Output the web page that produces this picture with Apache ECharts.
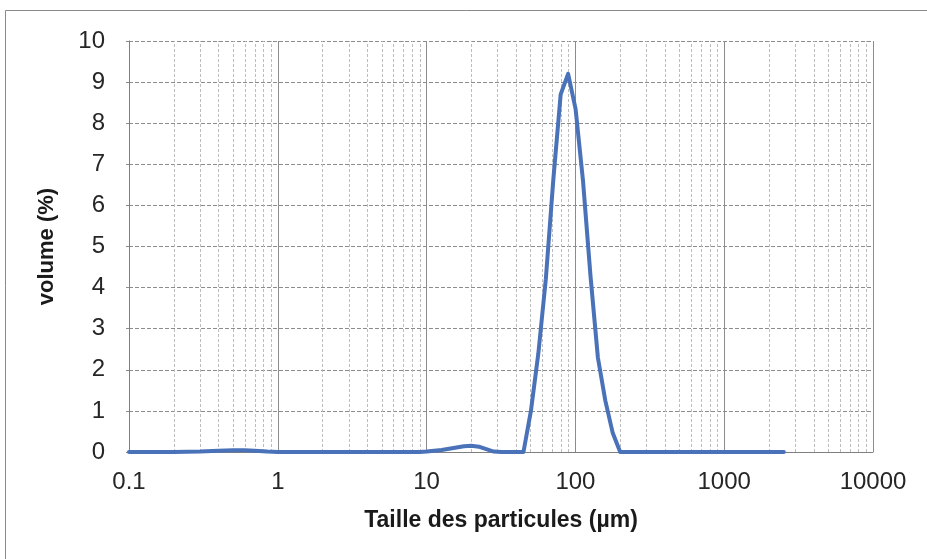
<!DOCTYPE html>
<html>
<head>
<meta charset="utf-8">
<script src="https://cdn.jsdelivr.net/npm/echarts@6/dist/echarts.min.js"></script>
<style>
  html, body { margin: 0; padding: 0; background: #ffffff; }
  #chart { width: 927px; height: 559px; }
</style>
</head>
<body>
<div id="chart"></div>
<script>
// Granulométrie laser : taille des particules (µm) et fraction volumique (%)
const tailleMicrons = [
  0.1, 0.2, 0.3, 0.4, 0.5, 0.6, 0.7, 0.85, 1, 2, 5, 9,
  10.02, 11.25, 12.62, 14.16, 15.89, 17.83, 20.0, 22.44, 25.18, 28.25, 31.70,
  39.91, 44.77, 50.24, 56.37, 63.25, 70.96, 79.62, 89.34, 100.24, 112.47,
  126.19, 141.59, 158.87, 178.25, 200.0, 500, 1000, 2518
];
const volumePct = [
  0, 0, 0.01, 0.03, 0.04, 0.04, 0.03, 0.01, 0, 0, 0, 0,
  0.01, 0.03, 0.05, 0.08, 0.11, 0.14, 0.15, 0.13, 0.07, 0.01, 0,
  0, 0, 1.0, 2.4, 4.2, 6.6, 8.7, 9.2, 8.35, 6.6,
  4.3, 2.3, 1.25, 0.46, 0, 0, 0, 0
];

// Graduations de l'axe logarithmique
const decades = [0.1, 1, 10, 100, 1000, 10000];
const minorSteps = [2, 3, 4, 5, 6, 7, 8, 9];
const yMin = 0, yMax = 10, yStep = 1;

const minorValues = [];
decades.slice(0, -1).forEach(d => minorSteps.forEach(m => minorValues.push(+(d * m).toPrecision(6))));

const chart = echarts.init(document.getElementById('chart'), null, { renderer: 'canvas' });

const fontFamily = '"Liberation Sans", Arial, sans-serif';

chart.setOption({
  animation: false,
  backgroundColor: '#ffffff',
  graphic: [{
    type: 'rect',
    shape: { x: 5.5, y: 10.5, width: 940, height: 560 },
    style: { fill: 'none', stroke: '#8a8a8a', lineWidth: 1 },
    silent: true,
    z: -1
  }],
  grid: { left: 129, right: 54, top: 41, bottom: 107, containLabel: false },
  xAxis: {
    type: 'log',
    logBase: 10,
    min: decades[0],
    max: decades[decades.length - 1],
    name: 'Taille des particules (µm)',
    nameLocation: 'middle',
    nameGap: 57,
    nameTextStyle: { fontFamily, fontSize: 23, fontWeight: 'bold', color: '#1a1a1a' },
    axisLine: { show: true, lineStyle: { color: '#7f7f7f', width: 1 } },
    axisTick: { show: false },
    axisLabel: {
      fontFamily, fontSize: 24, color: '#262626', margin: 18,
      formatter: v => String(+(+v).toPrecision(6))
    },
    splitLine: { show: true, lineStyle: { color: '#8c8c8c', width: 1, type: 'solid' } }
  },
  yAxis: {
    type: 'value',
    min: yMin,
    max: yMax,
    interval: yStep,
    name: 'volume (%)',
    nameLocation: 'middle',
    nameGap: 71,
    nameTextStyle: { fontFamily, fontSize: 22, fontWeight: 'bold', color: '#1a1a1a' },
    axisLine: { show: true, lineStyle: { color: '#7f7f7f', width: 1 } },
    axisTick: { show: true, length: 5, lineStyle: { color: '#8c8c8c', type: [3, 2] } },
    axisLabel: { fontFamily, fontSize: 24, color: '#262626', margin: 24 },
    splitLine: { show: true, lineStyle: { color: '#8c8c8c', width: 1, type: [4, 2] } }
  },
  series: [{
    type: 'line',
    data: tailleMicrons.map((x, i) => [x, volumePct[i]]),
    showSymbol: false,
    smooth: false,
    lineStyle: { color: '#4a72b8', width: 4, join: 'round', cap: 'round' },
    z: 5,
    markLine: {
      silent: true,
      symbol: ['none', 'none'],
      label: { show: false },
      animation: false,
      lineStyle: { color: '#bdbdbd', width: 1, type: [3, 2] },
      data: minorValues.map(v => ({ xAxis: v }))
    }
  }]
});
</script>
</body>
</html>
